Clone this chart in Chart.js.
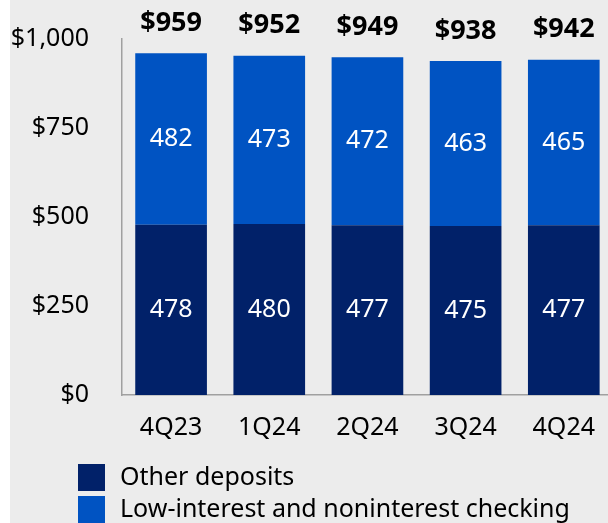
<!DOCTYPE html>
<html>
<head>
<meta charset="utf-8">
<script src="https://cdn.jsdelivr.net/npm/chart.js@4.4.1/dist/chart.umd.min.js"></script>
<style>
  html, body { margin: 0; padding: 0; background: #ffffff; overflow: hidden; width: 608px; height: 523px; }
  #depositChart { position: absolute; left: 10px; top: 0; background: #ececec; }
</style>
</head>
<body>
<canvas id="depositChart" width="603" height="523"></canvas>
<script>
// Deposits by quarter ($B)
const quarters = ['4Q23', '1Q24', '2Q24', '3Q24', '4Q24'];
const otherDeposits = [478, 480, 477, 475, 477];
const lowInterestChecking = [482, 473, 472, 463, 465];
const totals = [959, 952, 949, 938, 942];
const yTicks = [0, 250, 500, 750, 1000];

const FONT = '"Noto Sans", "Open Sans", sans-serif';
const NAVY = '#012169';
const BLUE = '#0053c2';

// segment values inside bars + bold totals on top
const valueLabels = {
    id: 'valueLabels',
    afterDatasetsDraw(chart) {
        const ctx = chart.ctx;
        ctx.save();
        ctx.textAlign = 'center';
        ctx.textBaseline = 'middle';
        ctx.fillStyle = '#ffffff';
        ctx.font = '25px ' + FONT;
        chart.data.datasets.forEach((ds, i) => {
            chart.getDatasetMeta(i).data.forEach((bar, j) => {
                ctx.fillText(ds.data[j], bar.x, (bar.y + bar.base) / 2);
            });
        });
        const top = chart.getDatasetMeta(1).data;
        ctx.fillStyle = '#000000';
        ctx.font = 'bold 27px ' + FONT;
        top.forEach((bar, j) => {
            ctx.fillText('$' + totals[j], bar.x, bar.y - 30);
        });
        ctx.restore();
    }
};

// stacked legend at the bottom left
const sideLegend = {
    id: 'sideLegend',
    afterDraw(chart) {
        const ctx = chart.ctx;
        ctx.save();
        ctx.textBaseline = 'middle';
        ctx.textAlign = 'left';
        ctx.font = '25px ' + FONT;
        chart.data.datasets.forEach((ds, i) => {
            const y = 464 + i * 32;
            ctx.fillStyle = ds.backgroundColor;
            ctx.fillRect(68, y, 27, 27);
            ctx.fillStyle = '#000000';
            ctx.fillText(ds.label, 110, y + 13.5);
        });
        ctx.restore();
    }
};

const canvas = document.getElementById('depositChart');
new Chart(canvas, {
    type: 'bar',
    data: {
        labels: quarters,
        datasets: [{
            label: 'Other deposits',
            data: otherDeposits,
            backgroundColor: NAVY,
            barPercentage: 0.73,
            categoryPercentage: 1
        }, {
            label: 'Low-interest and noninterest checking',
            data: lowInterestChecking,
            backgroundColor: BLUE,
            barPercentage: 0.73,
            categoryPercentage: 1
        }]
    },
    options: {
        responsive: false,
        animation: false,
        layout: { padding: { top: 39, right: 0, bottom: 80, left: 0 } },
        plugins: {
            legend: { display: false },
            tooltip: { enabled: false }
        },
        scales: {
            x: {
                stacked: true,
                afterFit(scale) { scale.height = 48; },
                grid: { display: false, drawTicks: false },
                border: { color: '#a0a0a0', width: 1.5 },
                ticks: { color: '#000000', font: { family: FONT, size: 25 }, padding: 18 }
            },
            y: {
                stacked: true,
                min: 0,
                max: 1000,
                afterBuildTicks(scale) { scale.ticks = yTicks.map(v => ({ value: v })); },
                afterFit(scale) {
                    scale.width = 112;
                    scale.paddingTop = 0;
                    scale.paddingBottom = 0;
                },
                grid: { display: false, drawTicks: false },
                border: { color: '#a0a0a0', width: 1.5 },
                ticks: {
                    color: '#000000',
                    font: { family: FONT, size: 25 },
                    padding: 33,
                    callback: v => '$' + v.toLocaleString('en-US')
                }
            }
        }
    },
    plugins: [valueLabels, sideLegend]
});
</script>
</body>
</html>
